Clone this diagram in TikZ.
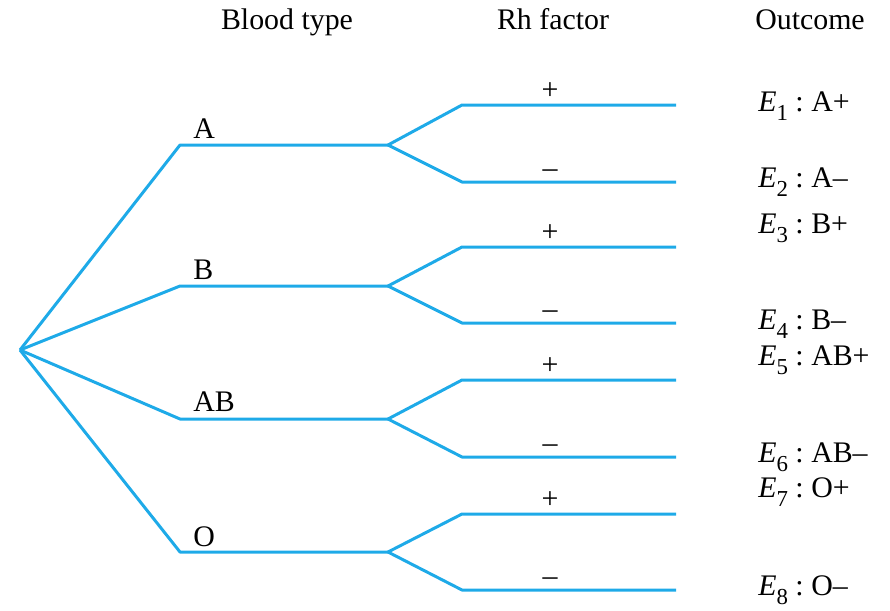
\documentclass[tikz,border=0pt]{standalone}
\usepackage{fontspec}
\setmainfont{Liberation Serif}
\usepackage{tikz}
\usetikzlibrary{positioning}

\definecolor{gren}{RGB}{30,170,232}
\newcommand{\utfall}[2]{\textit{E}\raisebox{-0.7ex}{\fontsize{13}{13}\selectfont #1}~:~#2}

\begin{document}
\begin{tikzpicture}[x=0.02cm, y=-0.02cm, font=\fontsize{17}{20}\selectfont]

\tikzstyle{kant}=[draw=gren, line width=1.7pt, line join=round]
\tikzstyle{etikett}=[inner sep=0pt, anchor=base west]
\tikzstyle{tegn}=[inner sep=0pt, anchor=base]
\tikzstyle{utfall}=[inner sep=0pt, anchor=base west]

\useasboundingbox (0,0) rectangle (890,610);

% headings
\node[tegn] (hblod) at (287,29) {Blood type};
\node[tegn] (hrh) at (553,29) {Rh factor};
\node[tegn] (hutfall) at (810,29) {Outcome};

\coordinate (rot) at (20,350);

% blood type A
\coordinate (a0) at (180,145);
\coordinate (a1) at (388,145);
\coordinate (ap0) at (462,105);
\coordinate (ap1) at (676,105);
\coordinate (am0) at (462,182);
\coordinate (am1) at (676,182);
\draw[kant] (rot) -- (a0) -- (a1);
\draw[kant] (ap1) -- (ap0) -- (a1) -- (am0) -- (am1);
\node[etikett] (la) at (193,138) {A};
\node[tegn] (lap) at (550,99) {+};
\node[tegn] (lam) at (550,177) {–};
\node[utfall] (e1) at (758,111) {\utfall{1}{A+}};
\node[utfall] (e2) at (758,187) {\utfall{2}{A–}};

% blood type B
\coordinate (b0) at (180,286);
\coordinate (b1) at (388,286);
\coordinate (bp0) at (462,247);
\coordinate (bp1) at (676,247);
\coordinate (bm0) at (462,323);
\coordinate (bm1) at (676,323);
\draw[kant] (rot) -- (b0) -- (b1);
\draw[kant] (bp1) -- (bp0) -- (b1) -- (bm0) -- (bm1);
\node[etikett] (lb) at (193,279) {B};
\node[tegn] (lbp) at (550,241) {+};
\node[tegn] (lbm) at (550,318) {–};
\node[utfall] (e3) at (758,233) {\utfall{3}{B+}};
\node[utfall] (e4) at (758,329) {\utfall{4}{B–}};

% blood type AB
\coordinate (c0) at (180,419);
\coordinate (c1) at (388,419);
\coordinate (cp0) at (462,380);
\coordinate (cp1) at (676,380);
\coordinate (cm0) at (462,457);
\coordinate (cm1) at (676,457);
\draw[kant] (rot) -- (c0) -- (c1);
\draw[kant] (cp1) -- (cp0) -- (c1) -- (cm0) -- (cm1);
\node[etikett] (lc) at (193,411) {AB};
\node[tegn] (lcp) at (550,374) {+};
\node[tegn] (lcm) at (550,452) {–};
\node[utfall] (e5) at (758,365) {\utfall{5}{AB+}};
\node[utfall] (e6) at (758,462) {\utfall{6}{AB–}};

% blood type O
\coordinate (d0) at (180,552);
\coordinate (d1) at (388,552);
\coordinate (dp0) at (462,514);
\coordinate (dp1) at (676,514);
\coordinate (dm0) at (462,590);
\coordinate (dm1) at (676,590);
\draw[kant] (rot) -- (d0) -- (d1);
\draw[kant] (dp1) -- (dp0) -- (d1) -- (dm0) -- (dm1);
\node[etikett] (ld) at (193,546) {O};
\node[tegn] (ldp) at (550,508) {+};
\node[tegn] (ldm) at (550,585) {–};
\node[utfall] (e7) at (758,497) {\utfall{7}{O+}};
\node[utfall] (e8) at (758,595) {\utfall{8}{O–}};

\end{tikzpicture}
\end{document}
